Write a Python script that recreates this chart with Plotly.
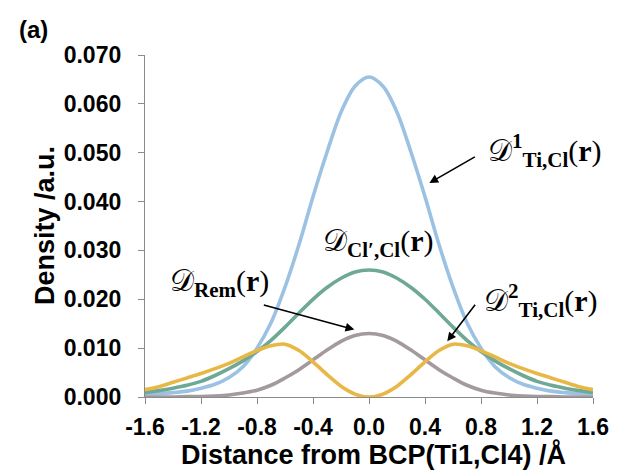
import plotly.graph_objects as go

# ---------------- data ----------------
distance = [-1.6, -1.5, -1.4, -1.3, -1.2, -1.1, -1.0, -0.9, -0.8, -0.7, -0.6, -0.5, -0.4, -0.3, -0.2, -0.1,
            0.0, 0.1, 0.2, 0.3, 0.4, 0.5, 0.6, 0.7, 0.8, 0.9, 1.0, 1.1, 1.2, 1.3, 1.4, 1.5, 1.6]

d_ti_cl_1 = [0.0006, 0.0007, 0.0009, 0.0012, 0.0018, 0.0026, 0.0040, 0.0062, 0.0100, 0.0152, 0.0225, 0.0312,
             0.0410, 0.0501, 0.0583, 0.0636, 0.0655, 0.0636, 0.0583, 0.0501, 0.0410, 0.0312, 0.0225, 0.0152,
             0.0100, 0.0062, 0.0040, 0.0026, 0.0018, 0.0012, 0.0009, 0.0007, 0.0006]

d_cl_cl = [0.0009, 0.0013, 0.0018, 0.0024, 0.0032, 0.0044, 0.0058, 0.0074, 0.0093, 0.0116, 0.0143, 0.0172,
           0.0200, 0.0224, 0.0243, 0.0256, 0.0260, 0.0256, 0.0243, 0.0224, 0.0200, 0.0172, 0.0143, 0.0116,
           0.0093, 0.0074, 0.0058, 0.0044, 0.0032, 0.0024, 0.0018, 0.0013, 0.0009]

d_ti_cl_2 = [0.0015, 0.0021, 0.0030, 0.0039, 0.0048, 0.0058, 0.0069, 0.0082, 0.0095, 0.0105, 0.0108, 0.0095,
             0.0072, 0.0046, 0.0022, 0.0006, 0.0000, 0.0006, 0.0022, 0.0046, 0.0072, 0.0095, 0.0108, 0.0105,
             0.0095, 0.0082, 0.0069, 0.0058, 0.0048, 0.0039, 0.0030, 0.0021, 0.0015]

d_rem = [0.0000, 0.0000, 0.0000, 0.0001, 0.0001, 0.0002, 0.0004, 0.0008, 0.0014, 0.0024, 0.0039, 0.0056,
         0.0076, 0.0096, 0.0114, 0.0126, 0.0130, 0.0126, 0.0114, 0.0096, 0.0076, 0.0056, 0.0039, 0.0024,
         0.0014, 0.0008, 0.0004, 0.0002, 0.0001, 0.0001, 0.0000, 0.0000, 0.0000]

x_tick_vals = [-1.6, -1.2, -0.8, -0.4, 0.0, 0.4, 0.8, 1.2, 1.6]
x_tick_text = ["-1.6", "-1.2", "-0.8", "-0.4", "0.0", "0.4", "0.8", "1.2", "1.6"]
y_tick_vals = [0.0, 0.01, 0.02, 0.03, 0.04, 0.05, 0.06, 0.07]
y_tick_text = ["0.000", "0.010", "0.020", "0.030", "0.040", "0.050", "0.060", "0.070"]

# ---------------- styles ----------------
BLUE = "#9cc2e3"
GREEN = "#6fa996"
YELLOW = "#e8b846"
GRAY = "#a39a9e"
AXIS = "#8a8a8a"
SANS = "Liberation Sans, Arial, sans-serif"
SERIF = "Liberation Serif, DejaVu Serif, serif"

fig = go.Figure()
for ys, col in [(d_ti_cl_1, BLUE), (d_cl_cl, GREEN), (d_rem, GRAY), (d_ti_cl_2, YELLOW)]:
    fig.add_trace(go.Scatter(x=distance, y=ys, mode="lines",
                             line=dict(color=col, width=3.6, shape="spline", smoothing=0.9),
                             showlegend=False, hoverinfo="skip"))

axis_common = dict(showline=True, linecolor=AXIS, linewidth=1.3, ticks="outside", ticklen=6,
                   tickcolor=AXIS, tickwidth=1.3, showgrid=False, zeroline=False,
                   tickfont=dict(family=SANS, size=23, color="black", weight="bold"))

# the page body has an 8px default margin: the figure is sized to fit the window after it
fig.update_layout(
    width=613, height=462,
    margin=dict(l=137, r=18, t=47, b=73),
    paper_bgcolor="white", plot_bgcolor="white",
    xaxis=dict(range=[-1.6, 1.6], tickvals=x_tick_vals, ticktext=x_tick_text,
               ticklabelstandoff=3, **axis_common),
    yaxis=dict(range=[0, 0.07], tickvals=y_tick_vals, ticktext=y_tick_text,
               ticklabelstandoff=12, **axis_common),
)

# axis titles and panel label
fig.add_annotation(xref="paper", yref="paper", x=0.509, y=-0.1686, text="Distance from BCP(Ti1,Cl4) /Å",
                   showarrow=False, xanchor="center", yanchor="middle",
                   font=dict(family=SANS, size=27, color="black", weight="bold"))
fig.add_annotation(xref="paper", yref="paper", x=-0.223, y=0.5, text="Density /a.u.", textangle=-90,
                   showarrow=False, xanchor="center", yanchor="middle",
                   font=dict(family=SANS, size=27, color="black", weight="bold"))
fig.add_annotation(xref="paper", yref="paper", x=-0.249, y=1.076, text="(a)",
                   showarrow=False, xanchor="center", yanchor="middle",
                   font=dict(family=SANS, size=24, color="black", weight="bold"))

# curve labels
mfont = dict(family=SERIF, size=30, color="black")
labels = [
    ("𝒟<sup><b>1</b></sup><sub><b>Ti,Cl</b></sub>(<b>r</b>)", 1.26, 0.0505),
    ("𝒟<sub><b>Cl′,Cl</b></sub>(<b>r</b>)", 0.065, 0.0315),
    ("𝒟<sub><b>Rem</b></sub>(<b>r</b>)", -1.07, 0.0233),
    ("𝒟<sup><b>2</b></sup><sub><b>Ti,Cl</b></sub>(<b>r</b>)", 1.23, 0.0198),
]
for txt, lx, ly in labels:
    fig.add_annotation(x=lx, y=ly, text=txt, showarrow=False, xanchor="center", yanchor="middle", font=mfont)

# arrows (head at data point, tail offset in px)
arrows = [(0.431, 0.0438, 47, -27), (-0.105, 0.0138, -92, -25), (0.559, 0.0114, 29, -38)]
for hx, hy, axp, ayp in arrows:
    fig.add_annotation(x=hx, y=hy, ax=axp, ay=ayp, axref="pixel", ayref="pixel", text="",
                       showarrow=True, arrowhead=2, arrowsize=1.1, arrowwidth=1.6, arrowcolor="black")

fig.write_html("out.html")
